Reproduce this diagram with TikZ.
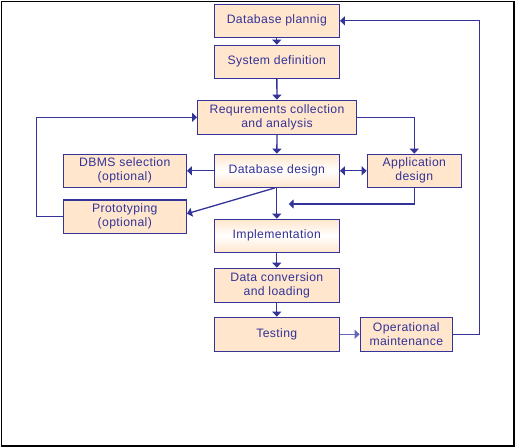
\documentclass[tikz,border=0pt]{standalone}
\usepackage{fontspec}
\setmainfont[LetterSpace=3]{Liberation Sans}
\usetikzlibrary{arrows.meta}
\definecolor{lineblue}{HTML}{333399}
\definecolor{peach}{HTML}{FFE6CC}
\definecolor{lightline}{HTML}{6666BB}
\begin{document}
\begin{tikzpicture}[x=1pt,y=-1pt,
  box/.style={draw=lineblue, line width=1.3pt, fill=peach, rectangle, inner sep=0pt,
    minimum width=125pt, minimum height=33pt, align=center, text=lineblue,
    font=\fontsize{12.2}{14}\selectfont},
  glow/.style={top color=peach, bottom color=peach, middle color=white},
  conn/.style={draw=lineblue, line width=1.3pt, -{Triangle[length=5pt,width=9pt]}},
  dconn/.style={draw=lineblue, line width=1.3pt, {Triangle[length=5pt,width=9pt]}-{Triangle[length=5pt,width=9pt]}},
  plain/.style={draw=lineblue, line width=1.3pt}]
\useasboundingbox (0,0) rectangle (515,447);
\draw[black, line width=1.8pt] (1.5,1.5) rectangle (513.8,445.8);

\node[box] (plan) at (276.8,20.8) {Database plannig};
\node[box] (sysdef) at (276.8,61.8) {System definition};
\node[box, minimum width=158.6pt, minimum height=34pt] (req) at (277,117.3) {Requrements collection\\and analysis};
\node[box, minimum width=123pt] (dbms) at (124.8,170.8) {DBMS selection\\(optional)};
\node[box, glow] (dbd) at (276.8,170.8) {Database design};
\node[box, minimum width=94pt] (app) at (414.3,170.8) {Application\\design};
\node[box, minimum width=123pt, minimum height=33.3pt] (proto) at (124.8,216.7) {Prototyping\\(optional)};
\node[box, glow] (impl) at (276.8,235.8) {Implementation};
\node[box, minimum height=34pt] (conv) at (276.8,285.3) {Data conversion\\and loading};
\node[box, minimum height=34pt] (test) at (276.8,334.3) {Testing};
\node[box, minimum width=92pt, minimum height=34pt] (oper) at (406.3,334.3) {Operational\\maintenance};

\coordinate (join) at (288.7,204);

\draw[conn] (plan) -- (sysdef);
\draw[conn] (sysdef) -- (req);
\draw[conn] (req) -- (dbd);
\draw[conn] (req.east) -| (app.north);
\draw[conn] (proto.west) -- ++(-26,0) |- (req.west);
\draw[conn] (dbd.west) -- (dbms.east);
\draw[dconn] (dbd.east) -- (app.west);
\draw[conn] ([xshift=-2pt]dbd.south) -- ([yshift=3pt]proto.east);
\draw[conn] (dbd) -- (impl);
\draw[conn] (app.south) |- (join);
\draw[conn] (impl) -- (conv);
\draw[conn] (conv) -- (test);
\draw[conn, draw=lightline, line width=0.9pt] (test.east) -- (oper.west);
\draw[conn] (oper.east) -- ++(26.4,0) |- (plan.east);
\end{tikzpicture}
\end{document}
